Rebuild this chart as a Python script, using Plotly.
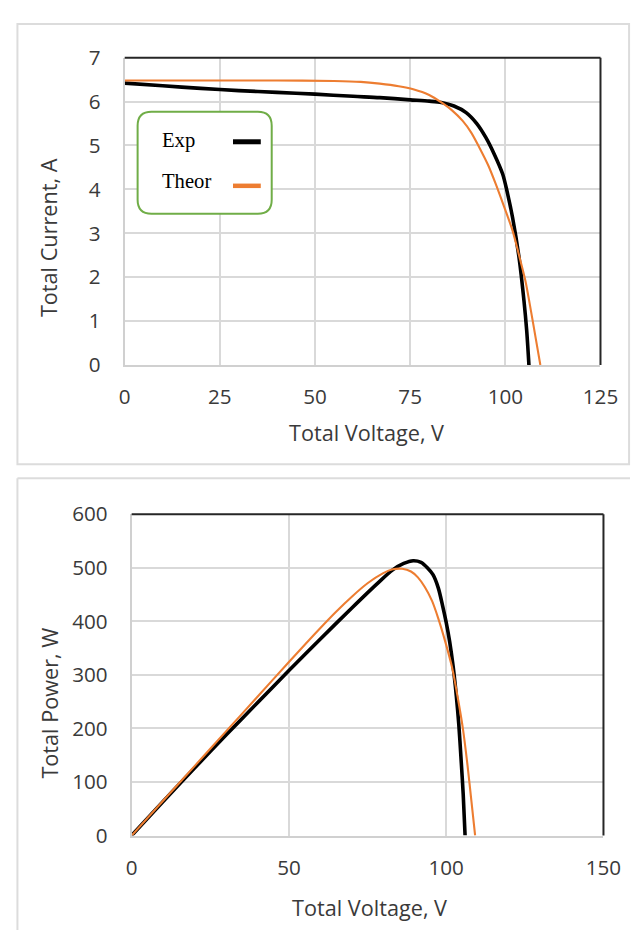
import plotly.graph_objects as go

# The figure sits 8px in from the page corner; the photographed picture is a
# slightly reduced view of the page, so positions are given in picture pixels
# and converted back to page pixels below.
PAGE_OFF = 8
W, H = 640, 935
VIEW_SCALE = 0.969
VIEW_SHIFT_X, VIEW_SHIFT_Y = 3.8, 14.6

# ---------------- data ----------------
# I-V curves
exp_iv_v = [0, 10, 20, 30, 40, 50, 60, 67, 75, 80, 83.2, 86.5, 89.7, 92.5, 94.9, 97, 99.3, 100.6, 101.9, 103.6, 104.9, 105.6, 106.2]
exp_iv_i = [6.42, 6.36, 6.30, 6.25, 6.21, 6.17, 6.12, 6.09, 6.04, 6.01, 5.98, 5.90, 5.75, 5.50, 5.18, 4.82, 4.35, 3.90, 3.36, 2.45, 1.46, 0.80, 0.0]
theor_iv_v = [0, 20, 40, 55, 62, 67, 72, 75.8, 80, 83.2, 86, 88.8, 91, 93.2, 95.5, 97.5, 99.7, 101.9, 103.6, 105.3, 106.8, 108, 109.2]
theor_iv_i = [6.48, 6.48, 6.48, 6.47, 6.45, 6.41, 6.35, 6.28, 6.15, 5.98, 5.80, 5.56, 5.30, 4.95, 4.55, 4.12, 3.60, 3.06, 2.50, 1.91, 1.20, 0.60, 0.0]

# P-V curves
exp_pv_v = [0, 10, 20, 30, 40, 50, 60, 70, 78, 83, 86.5, 89.5, 92, 94, 95.8, 97.5, 98.9, 100, 101.1, 102.2, 103.2, 104, 104.7, 105.4, 106]
exp_pv_p = [0, 63.6, 126, 187.5, 248, 308, 367, 425, 470, 496, 508, 513, 510, 500, 487, 462, 428, 398, 362, 316, 262, 208, 145, 78, 0]
theor_pv_v = [0, 10, 20, 30, 40, 50, 60, 65, 70, 75, 80, 83, 86, 88.8, 91, 93.2, 95.5, 97.5, 99.7, 101.9, 103.6, 105.3, 106.8, 108, 109.2]
theor_pv_p = [0, 64.8, 129.6, 194.4, 259, 324, 387.6, 418, 446, 471, 490, 497, 498, 493, 482, 464, 438, 405, 362, 313, 260, 200, 130, 65, 0]

iv_x_ticks = [0, 25, 50, 75, 100, 125]
iv_y_ticks = [0, 1, 2, 3, 4, 5, 6, 7]
pv_x_ticks = [0, 50, 100, 150]
pv_y_ticks = [0, 100, 200, 300, 400, 500, 600]

series_names = ["Exp", "Theor"]
series_colors = ["#000000", "#ed7d31"]
series_widths = [3.6, 2.1]

# ---------------- helpers (picture pixels -> paper) ----------------
def px(x):
    p = (x - VIEW_SHIFT_X) / VIEW_SCALE
    return min(max((p - PAGE_OFF) / W, 0.0), 0.9985)

def py(y):
    p = (y - VIEW_SHIFT_Y) / VIEW_SCALE
    return min(max(1 - (p - PAGE_OFF) / H, 0.0), 0.999)

def sz(v):
    return v / VIEW_SCALE

TICK_FONT = dict(family="Open Sans", size=sz(20), color="#3a3a3a")
TITLE_FONT = dict(family="Open Sans", size=sz(21), color="#3a3a3a")
GRID = "#d9d9d9"

fig = go.Figure()

curves = [(exp_iv_v, exp_iv_i, "x", "y", 0), (theor_iv_v, theor_iv_i, "x", "y", 1),
          (exp_pv_v, exp_pv_p, "x2", "y2", 0), (theor_pv_v, theor_pv_p, "x2", "y2", 1)]
for xs, ys, xa, ya, k in curves:
    fig.add_trace(go.Scatter(x=xs, y=ys, mode="lines", name=series_names[k],
                             line=dict(color=series_colors[k], width=series_widths[k],
                                       shape="spline", smoothing=0.8),
                             xaxis=xa, yaxis=ya, showlegend=False))

axis_common = dict(showgrid=True, gridcolor=GRID, gridwidth=2, showline=True, linecolor="#d0d0d0",
                   linewidth=2, zeroline=False, ticks="outside", tickcolor="rgba(0,0,0,0)",
                   tickfont=TICK_FONT)

fig.update_layout(
    width=W, height=H,
    margin=dict(l=0, r=0, t=0, b=0),
    paper_bgcolor="white", plot_bgcolor="white",
    showlegend=False,
    xaxis=dict(domain=[px(123), px(602)], range=[0, 125], tickvals=iv_x_ticks,
               anchor="y", ticklen=12, **axis_common),
    yaxis=dict(domain=[py(364), py(57)], range=[0, 7], tickvals=iv_y_ticks,
               anchor="x", ticklen=18, **axis_common),
    xaxis2=dict(domain=[px(130), px(605)], range=[0, 150], tickvals=pv_x_ticks,
                anchor="y2", ticklen=13, **axis_common),
    yaxis2=dict(domain=[py(834), py(513)], range=[0, 600], tickvals=pv_y_ticks,
                anchor="x2", ticklen=18, **axis_common),
)

FRAME = dict(color="#dcdcdc", width=2)
shapes = []
# outer frame of the upper panel
shapes.append(dict(type="rect", xref="paper", yref="paper", x0=px(15), x1=px(632), y0=py(463), y1=py(5),
                   line=FRAME, layer="below"))
# lower panel frame: only its top and left edges are visible
shapes.append(dict(type="line", xref="paper", yref="paper", x0=px(15), x1=1, y0=py(477), y1=py(477),
                   line=FRAME, layer="below"))
shapes.append(dict(type="line", xref="paper", yref="paper", x0=px(15), x1=px(15), y0=0, y1=py(477),
                   line=FRAME, layer="below"))
# dark top/right plot-area borders
for xr, yr in (("x domain", "y domain"), ("x2 domain", "y2 domain")):
    shapes.append(dict(type="line", xref=xr, yref=yr, x0=0, x1=1, y0=1, y1=1,
                       line=dict(color="#262626", width=2)))
    shapes.append(dict(type="line", xref=xr, yref=yr, x0=1, x1=1, y0=0, y1=1,
                       line=dict(color="#262626", width=2)))

# rounded legend box
def rounded_rect(x0, y0, x1, y1, r):
    p = lambda x, y: f"{px(x)},{py(y)}"
    return (f"M {p(x0 + r, y0)} L {p(x1 - r, y0)} Q {p(x1, y0)} {p(x1, y0 + r)} "
            f"L {p(x1, y1 - r)} Q {p(x1, y1)} {p(x1 - r, y1)} "
            f"L {p(x0 + r, y1)} Q {p(x0, y1)} {p(x0, y1 - r)} "
            f"L {p(x0, y0 + r)} Q {p(x0, y0)} {p(x0 + r, y0)} Z")

shapes.append(dict(type="path", xref="paper", yref="paper", path=rounded_rect(136, 111, 271, 213, 14),
                   fillcolor="white", line=dict(color="#70ad47", width=2)))
legend_rows = [141, 185]
for name, color, yy, lw in zip(series_names, series_colors, legend_rows, [5, 4.5]):
    shapes.append(dict(type="line", xref="paper", yref="paper", x0=px(232), x1=px(260), y0=py(yy), y1=py(yy),
                       line=dict(color=color, width=lw)))
fig.update_layout(shapes=shapes)

annotations = []
for name, yy in zip(series_names, [140, 180]):
    annotations.append(dict(text=name, xref="paper", yref="paper", x=px(159), y=py(yy), xanchor="left",
                            yanchor="middle", showarrow=False,
                            font=dict(family="Liberation Serif", size=sz(20), color="#000000")))
annotations += [
    dict(text="Total Voltage, V", xref="paper", yref="paper", x=px(366), y=py(431), xanchor="center",
         yanchor="middle", showarrow=False, font=TITLE_FONT),
    dict(text="Total Current, A", xref="paper", yref="paper", x=px(47), y=py(237), xanchor="center",
         yanchor="middle", showarrow=False, textangle=-90, font=TITLE_FONT),
    dict(text="Total Voltage, V", xref="paper", yref="paper", x=px(369), y=py(906), xanchor="center",
         yanchor="middle", showarrow=False, font=TITLE_FONT),
    dict(text="Total Power, W", xref="paper", yref="paper", x=px(47), y=py(702), xanchor="center",
         yanchor="middle", showarrow=False, textangle=-90, font=TITLE_FONT),
]
fig.update_layout(annotations=annotations)

fig.write_html("out.html")
